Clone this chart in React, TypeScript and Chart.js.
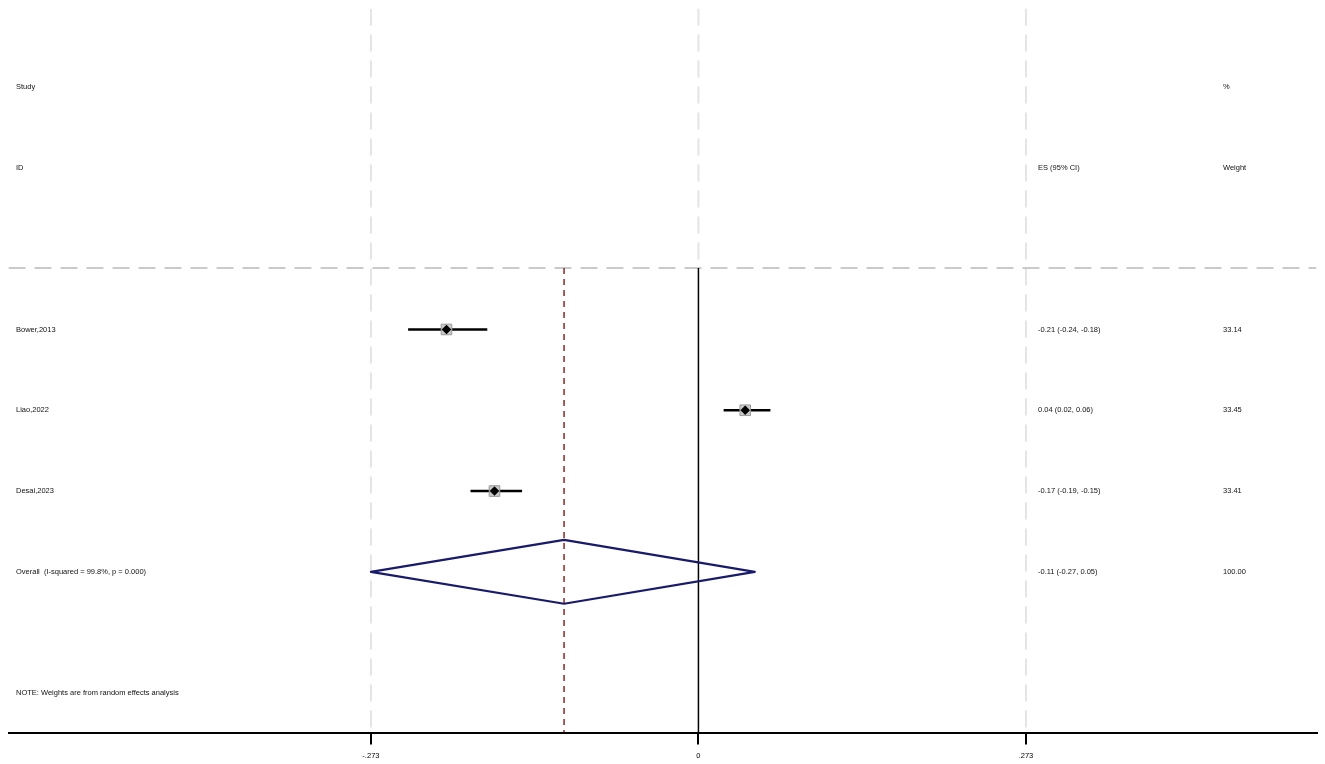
import React, { useEffect, useRef } from "react";
import { Chart, registerables } from "chart.js";

Chart.register(...registerables);

// ---- data ----
const studies = ["Bower,2013", "Liao,2022", "Desai,2023"];
const estimates = [-0.21, 0.039, -0.17];
const lowerCI = [-0.242, 0.021, -0.19];
const upperCI = [-0.176, 0.06, -0.147];
const esLabels = ["-0.21 (-0.24, -0.18)", "0.04 (0.02, 0.06)", "-0.17 (-0.19, -0.15)"];
const weightLabels = ["33.14", "33.45", "33.41"];

const overallLabel = "Overall  (I-squared = 99.8%, p = 0.000)";
const overallEstimate = -0.112;
const overallLower = -0.273;
const overallUpper = 0.047;
const overallEsLabel = "-0.11 (-0.27, 0.05)";
const overallWeightLabel = "100.00";

const noteText = "NOTE: Weights are from random effects analysis";

const tickValues = [-0.273, 0, 0.273];
const tickLabels = ["-.273", "0", ".273"];

// row positions (row index from top)
const headerRow1 = 0;
const headerRow2 = 1;
const separatorRow = 2.24;
const studyRows = [3, 4, 5];
const overallRow = 6;
const noteRow = 7.5;

const X_MIN = -0.5751;
const X_MAX = 0.5152;
const Y_MIN = -0.972;
const Y_MAX = 7.988;

export default function App() {
  const ref = useRef<HTMLCanvasElement | null>(null);

  useEffect(() => {
    if (!ref.current) return;
    const diamondHalf = 0.395;

    const datasets: any[] = [];
    // grey dashed verticals
    [tickValues[0], tickValues[2]].forEach((v) => {
      datasets.push({
        data: [{ x: v, y: Y_MIN }, { x: v, y: Y_MAX }],
        showLine: true, pointRadius: 0, borderColor: "#e4e4e4", borderWidth: 2,
        borderDash: [17, 9], order: 20,
      });
    });
    datasets.push({
      data: [{ x: tickValues[1], y: Y_MIN }, { x: tickValues[1], y: separatorRow }],
      showLine: true, pointRadius: 0, borderColor: "#e4e4e4", borderWidth: 2,
      borderDash: [17, 9], order: 20,
    });
    // horizontal separator
    datasets.push({
      data: [{ x: X_MIN, y: separatorRow }, { x: X_MAX, y: separatorRow }],
      showLine: true, pointRadius: 0, borderColor: "#b9b9b9", borderWidth: 1.5,
      borderDash: [17, 9], order: 19,
    });
    // overall effect dashed line
    datasets.push({
      data: [{ x: overallEstimate, y: separatorRow }, { x: overallEstimate, y: Y_MAX }],
      showLine: true, pointRadius: 0, borderColor: "#8e3535", borderWidth: 1.6,
      borderDash: [6, 5], order: 10,
    });
    // null line
    datasets.push({
      data: [{ x: 0, y: separatorRow }, { x: 0, y: Y_MAX }],
      showLine: true, pointRadius: 0, borderColor: "#000000", borderWidth: 1.5, order: 10,
    });
    // overall diamond
    datasets.push({
      data: [
        { x: overallLower, y: overallRow },
        { x: overallEstimate, y: overallRow - diamondHalf },
        { x: overallUpper, y: overallRow },
        { x: overallEstimate, y: overallRow + diamondHalf },
        { x: overallLower, y: overallRow },
      ],
      showLine: true, pointRadius: 0, borderColor: "#1a1a6b", borderWidth: 2.2,
      borderJoinStyle: "round", borderCapStyle: "round", order: 5,
    });
    // CI lines
    studies.forEach((_, i) => {
      datasets.push({
        data: [{ x: lowerCI[i], y: studyRows[i] }, { x: upperCI[i], y: studyRows[i] }],
        showLine: true, pointRadius: 0, borderColor: "#000000", borderWidth: 2.6, order: 3,
      });
    });
    // weight boxes
    datasets.push({
      data: studies.map((_, i) => ({ x: estimates[i], y: studyRows[i] })),
      showLine: false, pointStyle: "rect", pointRadius: 7.5,
      backgroundColor: "#c9c9c9", borderColor: "#9a9a9a", borderWidth: 1, order: 2,
    });
    // point estimates
    datasets.push({
      data: studies.map((_, i) => ({ x: estimates[i], y: studyRows[i] })),
      showLine: false, pointStyle: "rectRot", pointRadius: 4.8,
      backgroundColor: "#000000", borderColor: "#000000", borderWidth: 0, order: 1,
    });

    const textPlugin = {
      id: "forestText",
      afterDraw(chart: any) {
        const ctx = chart.ctx;
        const y = chart.scales.y;
        ctx.save();
        ctx.fillStyle = "#111";
        ctx.font = "7.5px 'Liberation Sans', Arial, sans-serif";
        ctx.textBaseline = "middle";
        ctx.textAlign = "left";
        const colLeft = 16;
        const colEs = 1038;
        const colW = 1223;
        ctx.fillText("Study", colLeft, y.getPixelForValue(headerRow1));
        ctx.fillText("ID", colLeft, y.getPixelForValue(headerRow2));
        ctx.fillText("%", colW, y.getPixelForValue(headerRow1));
        ctx.fillText("ES (95% CI)", colEs, y.getPixelForValue(headerRow2));
        ctx.fillText("Weight", colW, y.getPixelForValue(headerRow2));
        studies.forEach((s, i) => {
          const py = y.getPixelForValue(studyRows[i]);
          ctx.fillText(s, colLeft, py);
          ctx.fillText(esLabels[i], colEs, py);
          ctx.fillText(weightLabels[i], colW, py);
        });
        const oy = y.getPixelForValue(overallRow);
        ctx.fillText(overallLabel, colLeft, oy);
        ctx.fillText(overallEsLabel, colEs, oy);
        ctx.fillText(overallWeightLabel, colW, oy);
        ctx.fillText(noteText, colLeft, y.getPixelForValue(noteRow));
        ctx.restore();
      },
    };

    const chart = new Chart(ref.current, {
      type: "scatter",
      data: { datasets },
      options: {
        animation: false,
        responsive: false,
        events: [],
        layout: { padding: { left: 8, right: 7, top: 5, bottom: -3 } },
        plugins: { legend: { display: false }, tooltip: { enabled: false } },
        scales: {
          x: {
            type: "linear",
            min: X_MIN,
            max: X_MAX,
            afterBuildTicks: (axis: any) => {
              axis.ticks = tickValues.map((v) => ({ value: v }));
            },
            ticks: {
              autoSkip: false,
              maxRotation: 0,
              padding: 7.5,
              color: "#000",
              font: { size: 7.5, lineHeight: 1, family: "'Liberation Sans', Arial, sans-serif" },
              callback: (value: any) => {
                const idx = tickValues.findIndex((t) => Math.abs(t - Number(value)) < 1e-6);
                return idx >= 0 ? tickLabels[idx] : "";
              },
            },
            grid: {
              display: true,
              drawOnChartArea: false,
              drawTicks: true,
              tickLength: 12,
              color: "#000",
              lineWidth: 2,
            },
            border: { display: true, color: "#000", width: 2 },
          },
          y: {
            type: "linear",
            display: false,
            reverse: true,
            min: Y_MIN,
            max: Y_MAX,
          },
        },
      },
      plugins: [textPlugin],
    } as any);
    return () => chart.destroy();
  }, []);

  return (
    <div style={{ position: "fixed", left: 0, top: 0, width: 1325, height: 764, background: "#fff" }}>
      <canvas ref={ref} width={1325} height={764} style={{ width: 1325, height: 764, display: "block" }} />
    </div>
  );
}
